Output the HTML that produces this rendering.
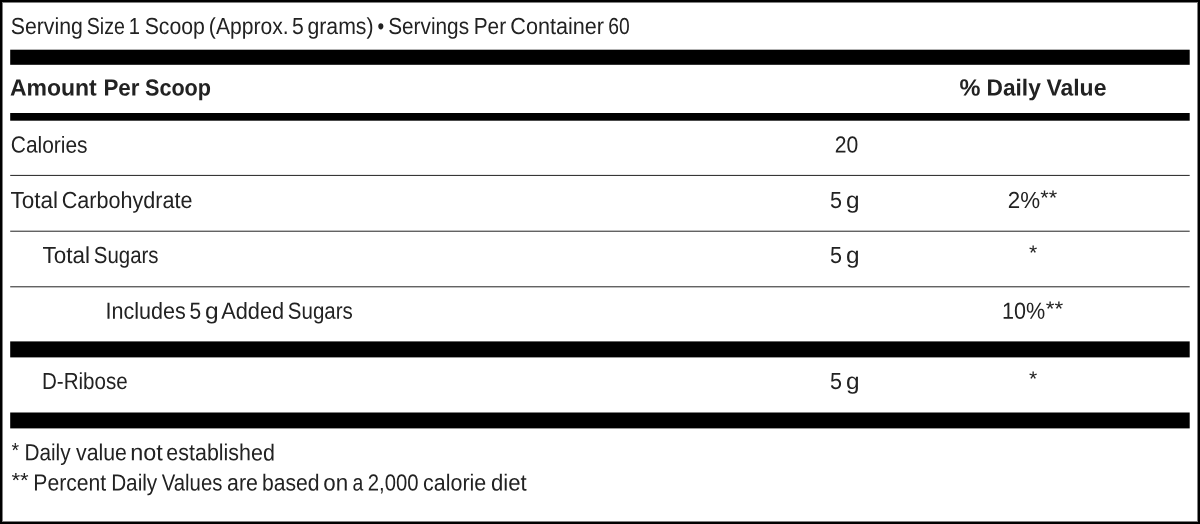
<!DOCTYPE html>
<html lang="en">
<head>
<meta charset="utf-8">
<title>Supplement Facts</title>
<style>
html,body{margin:0;padding:0;background:#fff}
body{width:1200px;height:524px;overflow:hidden;position:relative;font-family:"Liberation Sans",sans-serif;font-size:23.25px;line-height:1;color:#222}
.facts{position:absolute;left:0;top:0;width:1200px;height:524px;background:#fff}
.frame{position:absolute;left:0;top:0;width:1200px;height:524px;box-sizing:border-box;border:2px solid #000}
.frame:before{content:"";position:absolute;left:0;top:0;right:0;bottom:0;border:1px solid #808080}
svg.rules{position:absolute;left:0;top:0;width:1200px;height:524px}
.facts span{position:absolute;left:0;top:0;white-space:pre;transform-origin:0 0;display:block}
.facts .b{font-weight:700}
#l1w0{transform:translate(10.78px,15.00px) scaleX(0.9150) rotate(.05deg)}
#l1w1{transform:translate(86.76px,15.00px) scaleX(0.8439) rotate(.05deg)}
#l1w2{transform:translate(128.88px,15.00px) scaleX(0.8683) rotate(.05deg)}
#l1w3{transform:translate(144.69px,15.00px) scaleX(0.9141) rotate(.05deg)}
#l1w4{transform:translate(208.87px,15.00px) scaleX(0.9077) rotate(.05deg)}
#l1w5{transform:translate(291.99px,15.00px) scaleX(0.9091) rotate(.05deg)}
#l1w6{transform:translate(307.49px,15.00px) scaleX(0.9129) rotate(.05deg)}
#l1w7{transform:translate(377.39px,15.00px) scaleX(0.8154) rotate(.05deg)}
#l1w8{transform:translate(388.21px,15.00px) scaleX(0.8935) rotate(.05deg)}
#l1w9{transform:translate(473.73px,15.00px) scaleX(0.8964) rotate(.05deg)}
#l1w10{transform:translate(510.37px,15.00px) scaleX(0.9286) rotate(.05deg)}
#l1w11{transform:translate(608.27px,15.00px) scaleX(0.8292) rotate(.05deg)}
#h1w0{transform:translate(9.91px,76.50px) scaleX(0.9891) rotate(.05deg)}
#h1w1{transform:translate(103.46px,76.50px) scaleX(0.9622) rotate(.05deg)}
#h1w2{transform:translate(145.00px,76.50px) scaleX(0.9295) rotate(.05deg)}
#h2w0{transform:translate(959.49px,76.50px) scaleX(1.0127) rotate(.05deg)}
#h2w1{transform:translate(986.54px,76.50px) scaleX(0.9759) rotate(.05deg)}
#h2w2{transform:translate(1046.45px,76.50px) scaleX(0.9874) rotate(.05deg)}
#r1a{transform:translate(10.80px,133.60px) scaleX(0.9006) rotate(.05deg)}
#r1b{transform:translate(834.79px,133.60px) scaleX(0.9083) rotate(.05deg)}
#r2aw0{transform:translate(10.42px,189.00px) scaleX(0.9693) rotate(.05deg)}
#r2aw1{transform:translate(61.77px,189.00px) scaleX(0.9281) rotate(.05deg)}
#r2bw0{transform:translate(830.07px,189.00px) scaleX(0.9273) rotate(.05deg)}
#r2bw1{transform:translate(846.05px,189.00px) scaleX(1.0476) rotate(.05deg)}
#r2cw0{transform:translate(1007.79px,189.00px) scaleX(0.9622) rotate(.05deg)}
#r2cw1{transform:translate(1040.23px,188.05px) scale(0.9333,0.8848) rotate(.05deg)}
#r3aw0{transform:translate(42.52px,243.90px) scaleX(0.9672) rotate(.05deg)}
#r3aw1{transform:translate(93.87px,243.90px) scaleX(0.8780) rotate(.05deg)}
#r3bw0{transform:translate(830.07px,243.90px) scaleX(0.9273) rotate(.05deg)}
#r3bw1{transform:translate(846.05px,243.90px) scaleX(1.0476) rotate(.05deg)}
#r3c{transform:translate(1029.05px,242.95px) scale(0.9091,0.8848) rotate(.05deg)}
#r4aw0{transform:translate(105.45px,299.80px) scaleX(0.9266) rotate(.05deg)}
#r4aw1{transform:translate(189.50px,299.80px) scaleX(0.9000) rotate(.05deg)}
#r4aw2{transform:translate(204.94px,299.80px) scaleX(1.0571) rotate(.05deg)}
#r4aw3{transform:translate(221.20px,299.80px) scaleX(0.9354) rotate(.05deg)}
#r4aw4{transform:translate(287.82px,299.80px) scaleX(0.8822) rotate(.05deg)}
#r4cw0{transform:translate(1002.13px,299.80px) scaleX(0.9284) rotate(.05deg)}
#r4cw1{transform:translate(1045.82px,298.85px) scale(0.9623,0.8848) rotate(.05deg)}
#r5a{transform:translate(41.95px,369.90px) scaleX(0.8849) rotate(.05deg)}
#r5bw0{transform:translate(830.07px,369.90px) scaleX(0.9273) rotate(.05deg)}
#r5bw1{transform:translate(846.05px,369.90px) scaleX(1.0476) rotate(.05deg)}
#r5c{transform:translate(1029.05px,368.95px) scale(0.9091,0.8848) rotate(.05deg)}
#f1w0{transform:translate(11.58px,440.35px) scale(0.8364,0.8848) rotate(.05deg)}
#f1w1{transform:translate(24.44px,441.30px) scaleX(0.8925) rotate(.05deg)}
#f1w2{transform:translate(76.00px,441.30px) scaleX(0.9174) rotate(.05deg)}
#f1w3{transform:translate(130.19px,441.30px) scaleX(1.0081) rotate(.05deg)}
#f1w4{transform:translate(166.38px,441.30px) scaleX(0.9223) rotate(.05deg)}
#f2w0{transform:translate(11.52px,470.55px) scale(0.9507,0.8848) rotate(.05deg)}
#f2w1{transform:translate(33.31px,471.50px) scaleX(0.9086) rotate(.05deg)}
#f2w2{transform:translate(111.14px,471.50px) scaleX(0.8925) rotate(.05deg)}
#f2w3{transform:translate(161.78px,471.50px) scaleX(0.8733) rotate(.05deg)}
#f2w4{transform:translate(227.08px,471.50px) scaleX(0.9165) rotate(.05deg)}
#f2w5{transform:translate(261.94px,471.50px) scaleX(0.9079) rotate(.05deg)}
#f2w6{transform:translate(323.34px,471.50px) scaleX(0.9617) rotate(.05deg)}
#f2w7{transform:translate(352.47px,471.50px) scaleX(0.8333) rotate(.05deg)}
#f2w8{transform:translate(367.83px,471.50px) scaleX(0.8711) rotate(.05deg)}
#f2w9{transform:translate(423.08px,471.50px) scaleX(0.9218) rotate(.05deg)}
#f2w10{transform:translate(491.05px,471.50px) scaleX(0.9507) rotate(.05deg)}
</style>
</head>
<body>
<div class="facts">
  <div class="frame"></div>
  <svg class="rules" viewBox="0 0 1200 524" aria-hidden="true">
      <rect x="10.2" y="49.7" width="1179.5" height="15.1" fill="#000"/>
      <rect x="10.2" y="113.0" width="1179.5" height="7.7" fill="#000"/>
      <rect x="10.2" y="341.4" width="1179.5" height="16.0" fill="#000"/>
      <rect x="10.2" y="412.5" width="1179.5" height="15.9" fill="#000"/>
      <rect x="10.2" y="174.9" width="1179.5" height="1.0" fill="#222"/>
      <rect x="10.2" y="230.7" width="1179.5" height="1.0" fill="#222"/>
      <rect x="10.2" y="286.3" width="1179.5" height="1.0" fill="#222"/>
  </svg>
  <div class="serving"><div id="l1g"><span id="l1w0">Serving </span><span id="l1w1">Size </span><span id="l1w2">1 </span><span id="l1w3">Scoop </span><span id="l1w4">(Approx. </span><span id="l1w5">5 </span><span id="l1w6">grams) </span><span id="l1w7">• </span><span id="l1w8">Servings </span><span id="l1w9">Per </span><span id="l1w10">Container </span><span id="l1w11">60</span></div></div>
  <div class="head"><div id="h1g" class="b"><span id="h1w0">Amount </span><span id="h1w1">Per </span><span id="h1w2">Scoop</span></div><div id="h2g" class="b"><span id="h2w0">% </span><span id="h2w1">Daily </span><span id="h2w2">Value</span></div></div>
  <div class="row"><span id="r1a">Calories</span><span id="r1b">20</span></div>
  <div class="row"><div id="r2ag"><span id="r2aw0">Total </span><span id="r2aw1">Carbohydrate</span></div><div id="r2bg"><span id="r2bw0">5 </span><span id="r2bw1">g</span></div><div id="r2cg"><span id="r2cw0">2%</span><span id="r2cw1">**</span></div></div>
  <div class="row"><div id="r3ag"><span id="r3aw0">Total </span><span id="r3aw1">Sugars</span></div><div id="r3bg"><span id="r3bw0">5 </span><span id="r3bw1">g</span></div><span id="r3c">*</span></div>
  <div class="row"><div id="r4ag"><span id="r4aw0">Includes </span><span id="r4aw1">5 </span><span id="r4aw2">g </span><span id="r4aw3">Added </span><span id="r4aw4">Sugars</span></div><div id="r4cg"><span id="r4cw0">10%</span><span id="r4cw1">**</span></div></div>
  <div class="row"><span id="r5a">D-Ribose</span><div id="r5bg"><span id="r5bw0">5 </span><span id="r5bw1">g</span></div><span id="r5c">*</span></div>
  <div class="notes"><div id="f1g"><span id="f1w0">* </span><span id="f1w1">Daily </span><span id="f1w2">value </span><span id="f1w3">not </span><span id="f1w4">established</span></div><div id="f2g"><span id="f2w0">** </span><span id="f2w1">Percent </span><span id="f2w2">Daily </span><span id="f2w3">Values </span><span id="f2w4">are </span><span id="f2w5">based </span><span id="f2w6">on </span><span id="f2w7">a </span><span id="f2w8">2,000 </span><span id="f2w9">calorie </span><span id="f2w10">diet</span></div></div>
</div>
</body>
</html>
